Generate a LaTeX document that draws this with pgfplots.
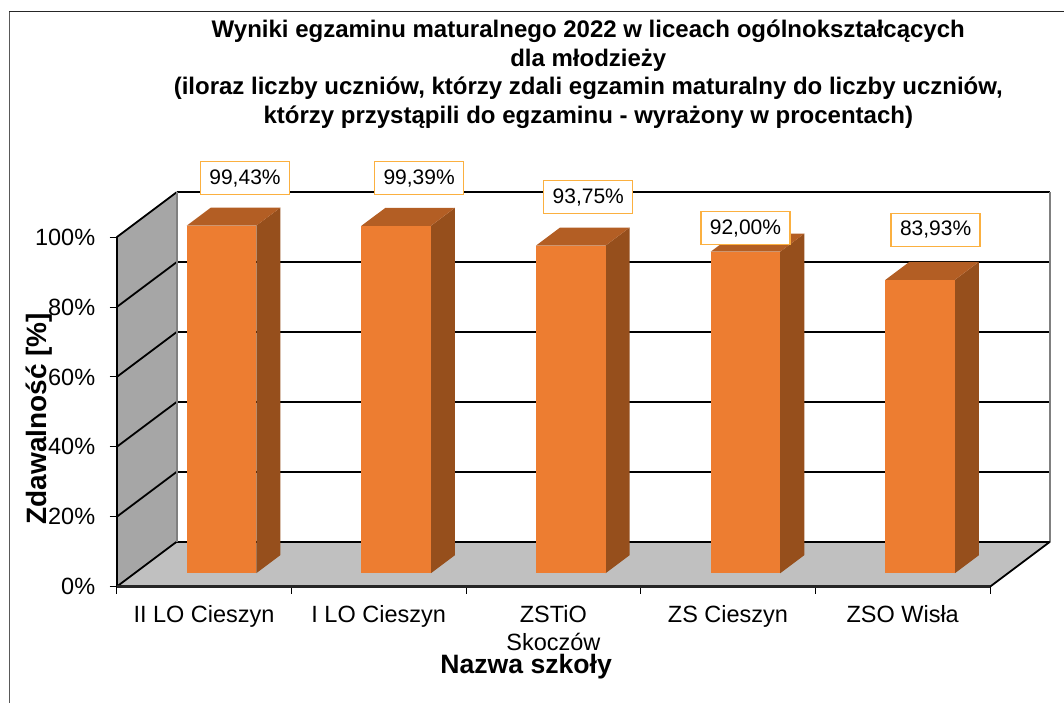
\documentclass[border=0pt]{standalone}
\usepackage{pgfplots}
\pgfplotsset{compat=1.18}
\usepackage{pgfplotstable}
\usepackage{fontspec}
\setmainfont{Liberation Sans}

% 1pt in the file = 1px in the reference
\definecolor{barfront}{HTML}{ED7D31}
\definecolor{bartop}{HTML}{B35E24}
\definecolor{barside}{HTML}{964F1C}
\definecolor{wallgray}{HTML}{A6A6A6}
\definecolor{floorgray}{HTML}{C0C0C0}
\definecolor{labelorange}{HTML}{FBB040}

% x left edge, value, label, label shift
\pgfplotstableread[col sep=comma]{
x,value,label,sx,sy
0.401,99.43,{99,43\%},23.5,47.5
1.401,99.39,{99,39\%},23,47.5
2.401,93.75,{93,75\%},17.5,48.5
3.401,92.00,{92,00\%},0,23.5
4.401,83.93,{83,93\%},15.5,50
}\schools

\newcommand{\solidbar}[2]{%
  \pgfmathsetmacro{\xa}{#1}\pgfmathsetmacro{\xb}{#1+0.398}\pgfmathsetmacro{\xc}{#1+0.398+0.1375}\pgfmathsetmacro{\xd}{#1+0.1375}%
  \pgfmathsetmacro{\yt}{#2+3.86}\pgfmathsetmacro{\ytt}{#2+3.86+5.15}%
  \addplot[fill=barside,draw=none] coordinates {(\xb,3.86) (\xc,9.01) (\xc,\ytt) (\xb,\yt)} --cycle;
  \addplot[fill=bartop,draw=none] coordinates {(\xa,\yt) (\xb,\yt) (\xc,\ytt) (\xd,\ytt)} --cycle;
  \addplot[fill=barfront,draw=none] coordinates {(\xa,3.86) (\xb,3.86) (\xb,\yt) (\xa,\yt)} --cycle;
}

\begin{document}
\begin{tikzpicture}
\useasboundingbox (-116.7pt,-116.3pt) rectangle (947.3pt,586.7pt);
\draw[line width=1pt,black!65] (-106.7pt,-116.3pt) -- (-106.7pt,575.3pt);
\draw[line width=1.3pt,black!85] (-107.2pt,575.3pt) -- (947.3pt,575.3pt);
\begin{axis}[
  at={(0pt,0pt)}, anchor=south west,
  scale only axis, width=933.3pt, height=394.5pt,
  xmin=0, xmax=5.3436, ymin=0, ymax=112.87,
  clip=false, axis line style={draw=none},
  font=\fontsize{23.5}{28}\selectfont,
  xtick pos=bottom, ytick pos=left,
  xtick={0.5,1.5,2.5,3.5,4.5},
  xticklabels={II LO Cieszyn,I LO Cieszyn,{ZSTiO\\Skoczów},ZS Cieszyn,ZSO Wisła},
  x tick label style={align=center,yshift=-8pt},
  minor xtick={0,1,2,3,4,5},
  ytick={0,20,40,60,80,100},
  yticklabels={0\%,20\%,40\%,60\%,80\%,100\%},
  y tick label style={xshift=-11pt},
  tick align=outside, tickwidth=7pt, subtickwidth=7pt,
  major x tick style={draw=none},
  tick style={black,line width=1pt},
  minor tick style={black,line width=1pt},
  title style={at={(0.5053,1)},anchor=south,align=center,font=\fontsize{24}{28.7}\selectfont\bfseries,yshift=54pt},
  title={Wyniki egzaminu maturalnego 2022 w liceach ogólnokształcących\\dla młodzieży\\(iloraz liczby uczniów, którzy zdali egzamin maturalny do liczby uczniów,\\którzy przystąpili do egzaminu - wyrażony w procentach)},
  xlabel={Nazwa szkoły},
  xlabel style={at={(0.4387,0)},anchor=center,yshift=-80pt,font=\fontsize{26.6}{30}\selectfont\bfseries},
  ylabel={Zdawalność [\%]},
  ylabel style={at={(0,0.426)},anchor=center,yshift=78pt,font=\fontsize{28}{32}\selectfont\bfseries},
]
% walls and floor
\addplot[fill=wallgray,draw=none] coordinates {(0,0) (0.3436,12.87) (0.3436,112.87) (0,100)} --cycle;
\addplot[fill=floorgray,draw=none] coordinates {(0,0) (5,0) (5.3436,12.87) (0.3436,12.87)} --cycle;
% grid on back wall and side wall
\pgfplotsinvokeforeach{12.87,32.87,52.87,72.87,92.87,112.87}{
  \addplot[black,line width=2.4pt] coordinates {(0.3436,#1) (5.3436,#1)};
}
\pgfplotsinvokeforeach{0,20,40,60,80,100}{
  \addplot[black,line width=1.8pt] coordinates {(0,#1) (0.3436,#1+12.87)};
}
\addplot[black!50,line width=1.8pt] coordinates {(0.3436,12.87) (0.3436,112.87)};
\addplot[black!50,line width=1.8pt] coordinates {(5.3436,12.87) (5.3436,112.87)};
\addplot[black,line width=1.8pt] coordinates {(5,0) (5.3436,12.87)};
\addplot[black,line width=2pt] coordinates {(0,0) (0,100)};
\addplot[black!85,line width=2.4pt] coordinates {(0,0) (5,0)};
% bars
\solidbar{0.401}{99.43}
\solidbar{1.401}{99.39}
\solidbar{2.401}{93.75}
\solidbar{3.401}{92.00}
\solidbar{4.401}{83.93}
% value labels
\addplot[
  draw=none, mark=none,
  visualization depends on={\thisrow{sx}\as\sx},
  visualization depends on={\thisrow{sy}\as\sy},
  point meta=explicit symbolic,
  nodes near coords,
  every node near coord/.append style={anchor=center,xshift=\sx pt,yshift=\sy pt,
    fill=white,draw=labelorange,line width=1.3pt,inner sep=0pt,
    minimum width=89pt,minimum height=33pt,font=\fontsize{21}{24}\selectfont},
] table[x expr=\thisrow{x}+0.199,y expr=\thisrow{value}+3.86,meta=label] {\schools};
\end{axis}
\end{tikzpicture}
\end{document}
